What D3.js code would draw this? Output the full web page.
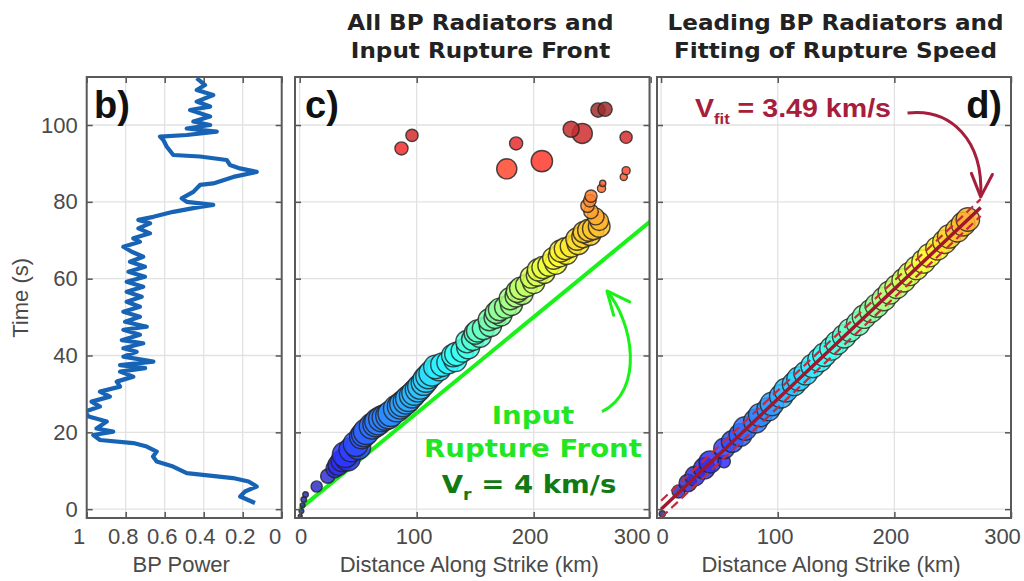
<!DOCTYPE html>
<html>
<head>
<meta charset="utf-8">
<script src="https://cdn.jsdelivr.net/npm/d3@7"></script>
<style>
  body { margin: 0; background: #fff; }
  svg { display: block; }
</style>
</head>
<body>
<div id="container"></div>
<script>
// ---- data ----
var timeTicks = [0, 20, 40, 60, 80, 100];
var powerTicks = [1, 0.8, 0.6, 0.4, 0.2, 0];
var powerTickLabels = ["1", "0.8", "0.6", "0.4", "0.2", "0"];
var distTicks = [0, 100, 200, 300];
var distTickLabels = ["0", "100", "200", "300"];

// panel b: normalised BP power vs time
var bpTime = [1.6, 3.3, 4.6, 5.9, 7.2, 8.1, 9.4, 11.1, 12.4, 13.7, 15.0, 16.3, 17.2, 18.0, 19.3, 20.2,
  21.0, 22.8, 24.1, 25.4, 26.7, 28.0, 29.3, 30.6, 31.9, 33.2, 34.5, 35.8, 36.7, 37.5, 38.4, 39.7,
  41.0, 41.9, 43.2, 44.0, 45.4, 46.7, 47.5, 48.8, 50.1, 51.4, 52.7, 54.0, 55.3, 56.6, 57.9, 59.2,
  60.5, 61.8, 63.1, 64.4, 65.7, 67.0, 68.3, 69.6, 70.5, 71.8, 73.1, 74.4, 75.3, 76.1, 77.4, 78.7,
  79.2, 80.0, 80.9, 82.6, 84.4, 84.8, 86.5, 87.8, 88.7, 89.6, 90.9, 91.8, 92.2, 94.4, 96.1, 97.0,
  97.4, 98.3, 99.1, 100.0, 100.9, 102.2, 103.9, 104.8, 106.1, 107.8, 109.1, 110.4, 112.2];
var bpPower = [0.137, 0.213, 0.188, 0.128, 0.17, 0.25, 0.487, 0.557, 0.641, 0.66, 0.641, 0.692, 0.761, 0.932, 0.966, 0.864,
  0.95, 0.897, 0.99, 1.01, 0.932, 0.975, 0.881, 0.932, 0.829, 0.846, 0.761, 0.829, 0.70, 0.829, 0.658, 0.812,
  0.744, 0.812, 0.71, 0.82, 0.727, 0.812, 0.692, 0.803, 0.727, 0.812, 0.727, 0.795, 0.718, 0.795, 0.71, 0.795,
  0.701, 0.786, 0.701, 0.778, 0.71, 0.769, 0.812, 0.727, 0.761, 0.675, 0.735, 0.675, 0.735, 0.658, 0.556, 0.419,
  0.351, 0.487, 0.513, 0.453, 0.419, 0.351, 0.248, 0.128, 0.214, 0.265, 0.282, 0.419, 0.556, 0.59, 0.607, 0.624,
  0.487, 0.333, 0.487, 0.367, 0.453, 0.367, 0.47, 0.367, 0.436, 0.351, 0.436, 0.393, 0.436];

// panel c: all BP radiators (distance km, time s, relative power)
var radDist = [0.5, 1.5, 2.5, 3.5, 5, 14.5, 24, 30, 36, 39, 44, 48, 53, 57, 62, 67, 73, 78, 83, 88, 93, 98,
  103, 108, 113, 119, 122, 133, 134, 144, 143, 154, 152, 163, 162, 172, 171, 181, 180, 190, 189, 200,
  198, 209, 208, 219, 217, 228, 227, 238, 237, 248, 247, 256, 256, 253, 249, 246, 248, 249, 258, 259,
  177, 207, 87, 185, 96, 232, 241.5, 279, 279, 277, 255, 261,
  33, 41, 50, 55, 65, 70, 76, 86, 91, 96, 101, 106, 110,
  116, 127, 131, 139, 148, 150, 157, 167, 168, 176, 185, 186, 194, 203, 204, 213, 222, 223, 232, 242, 243, 251];
var radTime = [-1.8, -0.5, 1.0, 2.5, 3.8, 5.9, 8.6, 10.5, 12.6, 14.2, 15.5, 17.0, 18.9, 20.2, 21.6, 22.8, 23.9, 24.9, 26.2, 27.4, 28.8, 30.3,
  31.9, 33.8, 35.4, 36.6, 37.6, 38.8, 40.4, 42.1, 43.6, 45.1, 46.4, 47.8, 49.3, 50.6, 52.0, 53.3, 54.8, 56.1, 57.5, 59.0,
  60.4, 61.6, 62.9, 64.0, 65.3, 66.6, 67.8, 69.1, 70.3, 71.5, 72.6, 73.6, 75.0, 76.2, 77.5, 79.0, 80.3, 81.5, 83.5, 84.8,
  88.6, 90.6, 93.9, 95.2, 97.3, 98.9, 97.8, 96.8, 88.1, 86.5, 103.9, 104.1,
  11.5, 13.2, 16.2, 19.5, 22.2, 23.5, 24.3, 26.8, 28.1, 29.6, 31.2, 32.9, 34.6,
  37.0, 38.2, 40.0, 41.2, 44.2, 45.8, 47.0, 49.9, 51.2, 52.6, 55.5, 56.7, 58.2, 60.9, 62.3, 63.5, 65.9, 67.2, 68.4, 70.9, 72.1, 73.0];
var radPower = [0.02, 0.03, 0.03, 0.04, 0.04, 0.16, 0.26, 0.4, 0.6, 0.85, 0.75, 0.8, 0.75, 0.85, 0.85, 0.9, 0.85, 0.85, 0.9, 0.85, 0.85, 0.8,
  0.8, 0.85, 0.85, 0.75, 0.7, 0.68, 0.7, 0.66, 0.64, 0.66, 0.62, 0.64, 0.62, 0.63, 0.65, 0.62, 0.63, 0.62, 0.64, 0.63,
  0.62, 0.6, 0.63, 0.62, 0.61, 0.63, 0.62, 0.62, 0.63, 0.62, 0.62, 0.6, 0.45, 0.36, 0.27, 0.23, 0.2, 0.19, 0.085, 0.05,
  0.52, 0.58, 0.22, 0.22, 0.19, 0.33, 0.52, 0.19, 0.085, 0.065, 0.26, 0.26,
  0.55, 0.8, 0.8, 0.8, 0.85, 0.85, 0.85, 0.85, 0.85, 0.8, 0.8, 0.8, 0.8,
  0.7, 0.66, 0.66, 0.64, 0.64, 0.62, 0.62, 0.62, 0.62, 0.62, 0.62, 0.62, 0.62, 0.6, 0.62, 0.62, 0.62, 0.62, 0.6, 0.62, 0.6, 0.6];

// panel d: leading BP radiators
var leadDist = [1, 15, 23, 29, 37, 42, 54, 54, 61, 68, 72, 81, 85, 92, 95, 103, 107, 114, 118, 124, 130, 136,
  140, 146, 151, 157, 162, 169, 174, 180, 185, 191, 196, 202, 208, 213, 219, 225, 230, 237, 243, 247, 254, 259, 263];
var leadTime = [-1.2, 4.6, 6.8, 8.6, 10.6, 12.3, 12.4, 15.8, 17.6, 19.3, 21.0, 22.9, 24.5, 26.0, 27.4, 29.4, 31.0, 32.6, 33.9, 35.4, 37.3, 38.9,
  40.2, 41.8, 43.3, 45.0, 46.6, 48.3, 50.1, 51.6, 53.0, 54.7, 56.4, 57.9, 59.6, 61.2, 62.8, 64.5, 66.1, 67.9, 69.6, 71.0, 72.6, 74.2, 75.4];
var leadPower = [0.05, 0.22, 0.4, 0.5, 0.58, 0.62, 0.2, 0.55, 0.6, 0.66, 0.7, 0.72, 0.7, 0.68, 0.7, 0.7, 0.72, 0.7, 0.72, 0.7, 0.7, 0.72,
  0.7, 0.68, 0.7, 0.7, 0.68, 0.7, 0.7, 0.68, 0.7, 0.7, 0.68, 0.7, 0.7, 0.68, 0.7, 0.7, 0.68, 0.7, 0.7, 0.7, 0.7, 0.72, 0.7];

var inputSpeed = 4;      // km/s, input rupture front
var fitSpeed = 3.49;     // km/s, fitted
var fitBand = 2.2;       // s, dashed bounds
var fitMaxDist = 274;    // km

// ---- layout ----
var width = 1024, height = 581;
var yTop = 77, yBottom = 518;

var svg = d3.select("#container").append("svg")
    .attr("width", width)
    .attr("height", height)
    .style("font-family", "'Liberation Sans', Arial, sans-serif");

var y = d3.scaleLinear().domain([-2.3, 112.5]).range([yBottom, yTop]);
var xb = d3.scaleLinear().domain([1, 0]).range([86.7, 281.7]);
var xc = d3.scaleLinear().domain([-4, 299]).range([295, 649.5]);
var xd = d3.scaleLinear().domain([-3.5, 300]).range([657, 1011]);

var jetStops = [0, 0.125, 0.375, 0.625, 0.875, 1].map(function(f) { return f * 105; });
var jet = d3.scaleLinear().domain(jetStops)
    .range(["#00007f", "#0000ff", "#00ffff", "#ffff00", "#ff0000", "#7f0000"])
    .clamp(true);
// the printed markers look slightly washed out
function markerFill(t) { return d3.interpolateRgb(jet(t), "#fff")(0.18); }
var radius = d3.scaleSqrt().domain([0, 1]).range([0, 14]);

var gridColor = "#e2e2e2", axisColor = "#555", labelColor = "#4a4a4a";

function panel(id, x, xTicks, xLabels, labelShift, withYLabels) {
  var x0 = x.range()[0], x1 = x.range()[1];
  var g = svg.append("g").attr("class", "panel-" + id);

  svg.append("clipPath").attr("id", "clip-" + id)
    .append("rect").attr("x", x0).attr("y", yTop).attr("width", x1 - x0).attr("height", yBottom - yTop);

  // grid
  g.append("g").selectAll("line").data(xTicks).join("line")
      .attr("x1", function(d) { return x(d); }).attr("x2", function(d) { return x(d); })
      .attr("y1", yTop).attr("y2", yBottom)
      .attr("stroke", gridColor).attr("stroke-width", 1.3);
  g.append("g").selectAll("line").data(timeTicks).join("line")
      .attr("x1", x0).attr("x2", x1)
      .attr("y1", function(d) { return y(d); }).attr("y2", function(d) { return y(d); })
      .attr("stroke", gridColor).attr("stroke-width", 1.3);

  var plot = g.append("g").attr("clip-path", "url(#clip-" + id + ")");

  // axes, ticks pointing inward
  var bottom = g.append("g").attr("transform", "translate(0," + yBottom + ")")
      .call(d3.axisBottom(x).tickValues(xTicks).tickSize(-6).tickPadding(10)
        .tickFormat(function(d, i) { return xLabels[i]; }));
  bottom.selectAll("text").attr("dx", function(d, i) { return labelShift[i]; });
  var top = g.append("g").attr("transform", "translate(0," + yTop + ")")
      .call(d3.axisTop(x).tickValues(xTicks).tickSize(-6).tickFormat(""));
  var left = g.append("g").attr("transform", "translate(" + x0 + ",0)")
      .call(d3.axisLeft(y).tickValues(timeTicks).tickSize(-6).tickPadding(9)
        .tickFormat(withYLabels ? d3.format("d") : ""));
  var right = g.append("g").attr("transform", "translate(" + x1 + ",0)")
      .call(d3.axisRight(y).tickValues(timeTicks).tickSize(-6).tickFormat(""));

  [bottom, top, left, right].forEach(function(a) {
    a.select(".domain").remove();
    a.selectAll("line").attr("stroke", axisColor).attr("stroke-width", 1.5);
    a.selectAll("text").attr("fill", labelColor).style("font-size", "22px")
      .style("font-family", "'Liberation Sans', Arial, sans-serif");
  });

  g.append("rect").attr("x", x0).attr("y", yTop).attr("width", x1 - x0).attr("height", yBottom - yTop)
      .attr("fill", "none").attr("stroke", "#5a5a5a").attr("stroke-width", 2);

  g.append("text").attr("x", (x0 + x1) / 2 - 3).attr("y", 571.5)
      .attr("text-anchor", "middle").attr("fill", labelColor).style("font-size", "22px")
      .text(id === "b" ? "BP Power" : "Distance Along Strike (km)");

  return { g: g, plot: plot, bottom: bottom };
}

function radiatorMarks(plot, x, dist, time, power) {
  var pts = d3.range(dist.length).map(function(i) {
    return { d: dist[i], t: time[i], p: power[i] };
  }).sort(function(a, b) { return a.t - b.t; });
  plot.append("g").selectAll("circle")
      .data(pts)
      .join("circle")
      .attr("cx", function(r) { return x(r.d); })
      .attr("cy", function(r) { return y(r.t); })
      .attr("r", function(r) { return radius(r.p); })
      .attr("fill", function(r) { return markerFill(r.t); })
      .attr("fill-opacity", 0.85)
      .attr("stroke", "#222").attr("stroke-opacity", 0.8).attr("stroke-width", 1.4);
}

// ---- panel b ----
var pb = panel("b", xb, powerTicks, powerTickLabels, [-8, -3, -3, -4, -3, -7], true);
pb.plot.append("path")
    .datum(d3.zip(bpPower, bpTime))
    .attr("d", d3.line().x(function(d) { return xb(d[0]); }).y(function(d) { return y(d[1]); }))
    .attr("fill", "none").attr("stroke", "#1764b6").attr("stroke-width", 4.2)
    .attr("stroke-linejoin", "round");

svg.append("text")
    .attr("transform", "translate(28," + y(55) + ") rotate(-90)")
    .attr("text-anchor", "middle").attr("fill", labelColor).style("font-size", "22px")
    .text("Time (s)");

// ---- panel c ----
var pc = panel("c", xc, distTicks, distTickLabels, [1, -3, -4, -19], false);
svg.append("clipPath").attr("id", "clip-cx")
  .append("rect").attr("x", 250).attr("y", -10).attr("width", 651 - 250).attr("height", 50);
pc.bottom.attr("clip-path", "url(#clip-cx)");

pc.plot.append("line")
    .attr("x1", xc(0)).attr("y1", y(0))
    .attr("x2", xc(300)).attr("y2", y(300 / inputSpeed))
    .attr("stroke", "#19f219").attr("stroke-width", 4);

radiatorMarks(pc.plot, xc, radDist, radTime, radPower);

// ---- panel d ----
var pd = panel("d", xd, distTicks, distTickLabels, [1, -3, -4, -9], false);

radiatorMarks(pd.plot, xd, leadDist, leadTime, leadPower);

[-fitBand, fitBand].forEach(function(off) {
  pd.plot.append("line")
      .attr("x1", xd(0)).attr("y1", y(off))
      .attr("x2", xd(fitMaxDist)).attr("y2", y(fitMaxDist / fitSpeed + off))
      .attr("stroke", "#c42a3c").attr("stroke-width", 2.2).attr("stroke-dasharray", "9,5");
});
pd.plot.append("line")
    .attr("x1", xd(0)).attr("y1", y(0))
    .attr("x2", xd(fitMaxDist)).attr("y2", y(fitMaxDist / fitSpeed))
    .attr("stroke", "#a0172d").attr("stroke-width", 3.5);

// ---- titles and panel letters ----
function title(cx, lines) {
  lines.forEach(function(s, i) {
    svg.append("text")
        .attr("transform", "translate(" + cx + "," + (29.5 + i * 28.5) + ") scale(1.1,1)")
        .attr("text-anchor", "middle").attr("fill", "#222")
        .style("font-family", "'DejaVu Sans', Verdana, sans-serif")
        .style("font-weight", "bold").style("font-size", "21px")
        .text(s);
  });
}
title(480.5, ["All BP Radiators and", "Input Rupture Front"]);
title(835.5, ["Leading BP Radiators and", "Fitting of Rupture Speed"]);

function letter(x, anchor, s) {
  svg.append("text").attr("x", x).attr("y", 117.5).attr("text-anchor", anchor)
      .attr("fill", "#111").style("font-weight", "bold").style("font-size", "38px")
      .text(s);
}
letter(94, "start", "b)");
letter(305, "start", "c)");
letter(1002, "end", "d)");

// ---- annotations ----
function arrowMarker(id, color) {
  svg.append("defs").append("marker")
      .attr("id", id).attr("markerUnits", "userSpaceOnUse")
      .attr("viewBox", "-26 -14 30 28").attr("refX", 0).attr("refY", 0)
      .attr("markerWidth", 30).attr("markerHeight", 28).attr("orient", "auto")
    .append("path").attr("d", "M-23,-10.5 L0,0 L-23,10.5")
      .attr("fill", "none").attr("stroke", color).attr("stroke-width", 3)
      .attr("stroke-linecap", "round").attr("stroke-linejoin", "round");
}
arrowMarker("arrow-green", "#19f219");
arrowMarker("arrow-red", "#a61e3c");

function bezier(x, pts) {
  var p = pts.map(function(q) { return [x(q[0]), y(q[1])]; });
  return "M" + p[0] + "C" + p[1] + " " + p[2] + " " + p[3];
}

svg.append("path")
    .attr("d", bezier(xc, [[258.4, 25.4], [295.1, 31.0], [284.9, 48.7], [262.6, 56.8]]))
    .attr("fill", "none").attr("stroke", "#19f219").attr("stroke-width", 3)
    .attr("marker-end", "url(#arrow-green)");

var greenText = svg.append("g")
    .style("font-family", "'DejaVu Sans', Verdana, sans-serif")
    .style("font-weight", "bold").style("font-size", "24px").attr("text-anchor", "middle");
greenText.append("text").attr("transform", "translate(" + xc(199.4) + "," + y(22.2) + ") scale(1.15,1)")
    .attr("fill", "#22e622").text("Input");
greenText.append("text").attr("transform", "translate(" + xc(199.4) + "," + y(13.7) + ") scale(1.15,1)")
    .attr("fill", "#22e622").text("Rupture Front");
var vr = greenText.append("text").attr("transform", "translate(" + xc(196) + "," + y(4.2) + ") scale(1.15,1)")
    .attr("fill", "#127a14");
vr.append("tspan").text("V");
vr.append("tspan").attr("dy", 7).style("font-size", "15px").text("r");
vr.append("tspan").attr("dy", -7).text(" = " + inputSpeed + " km/s");

svg.append("path")
    .attr("d", bezier(xd, [[211.3, 103.1], [248.3, 104.4], [276.6, 96.1], [274, 81.3]]))
    .attr("fill", "none").attr("stroke", "#a61e3c").attr("stroke-width", 3)
    .attr("marker-end", "url(#arrow-red)");

var vfit = svg.append("text")
    .attr("transform", "translate(695,116.7) scale(1.1,1)")
    .attr("fill", "#a61e3c").style("font-weight", "bold").style("font-size", "26px");
vfit.append("tspan").text("V");
vfit.append("tspan").attr("dy", 7).style("font-size", "15px").text("fit");
vfit.append("tspan").attr("dy", -7).text(" = " + fitSpeed + " km/s");
</script>
</body>
</html>
